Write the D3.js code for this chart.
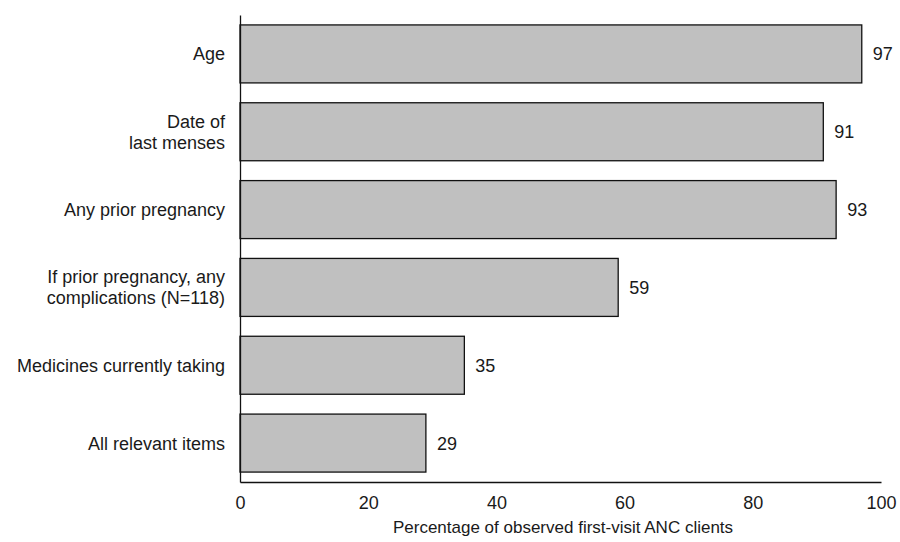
<!DOCTYPE html>
<html><head><meta charset="utf-8">
<script src="https://cdn.jsdelivr.net/npm/d3@7"></script>
<style>body{margin:0;background:#fff}svg{display:block}text{font-family:"Liberation Sans",Arial,sans-serif;fill:#1a1a1a}</style>
</head><body>
<script>
const categories = [
  ["Age"],
  ["Date of", "last menses"],
  ["Any prior pregnancy"],
  ["If prior pregnancy, any", "complications (N=118)"],
  ["Medicines currently taking"],
  ["All relevant items"]
];
const values = [97, 91, 93, 59, 35, 29];
const xTicks = [0, 20, 40, 60, 80, 100];
const xTitle = "Percentage of observed first-visit ANC clients";

const W = 900, H = 542;
const mLeft = 240, mRight = 881, mTop = 15, mBottom = 482;
const svg = d3.select("body").append("svg").attr("width", W).attr("height", H);

const x = d3.scaleLinear().domain([0, 100]).range([mLeft, mRight]);
const y = d3.scaleBand().domain(d3.range(values.length)).range([mTop, mBottom])
  .paddingInner(0.255).paddingOuter(0.1275);

svg.selectAll("rect.bar").data(values).join("rect").attr("class", "bar")
  .attr("x", x(0)).attr("y", (d, i) => y(i))
  .attr("width", d => x(d) - x(0)).attr("height", y.bandwidth())
  .attr("fill", "#c0c0c0").attr("stroke", "#111").attr("stroke-width", 1.3);

svg.selectAll("text.val").data(values).join("text").attr("class", "val")
  .attr("x", d => x(d) + 11).attr("y", (d, i) => y(i) + y.bandwidth() / 2)
  .attr("dy", "0.36em").attr("font-size", 18).text(d => d);

const cat = svg.selectAll("text.cat").data(categories).join("text").attr("class", "cat")
  .attr("text-anchor", "end").attr("font-size", 18);
cat.each(function (lines, i) {
  const cy = y(i) + y.bandwidth() / 2;
  const lh = 21;
  const t = d3.select(this);
  lines.forEach((l, j) => {
    t.append("tspan").attr("x", mLeft - 15)
      .attr("y", cy + (j - (lines.length - 1) / 2) * lh).attr("dy", "0.36em").text(l);
  });
});

const xAxis = d3.axisBottom(x).tickValues(xTicks).tickSize(0).tickPadding(14);
const gx = svg.append("g").attr("transform", `translate(0,${mBottom})`).call(xAxis);
gx.select(".domain").attr("stroke", "#111").attr("stroke-width", 1.3);
gx.selectAll("text").attr("font-size", 18).style("font-family", '"Liberation Sans",Arial,sans-serif').attr("fill", "#1a1a1a");

const yAxis = d3.axisLeft(y).tickSize(0).tickFormat("");
const gy = svg.append("g").attr("transform", `translate(${mLeft},0)`).call(yAxis);
gy.select(".domain").attr("stroke", "#111").attr("stroke-width", 1.3);

svg.append("text").attr("x", 563).attr("y", 533)
  .attr("text-anchor", "middle").attr("font-size", 17).text(xTitle);
</script>
</body></html>
